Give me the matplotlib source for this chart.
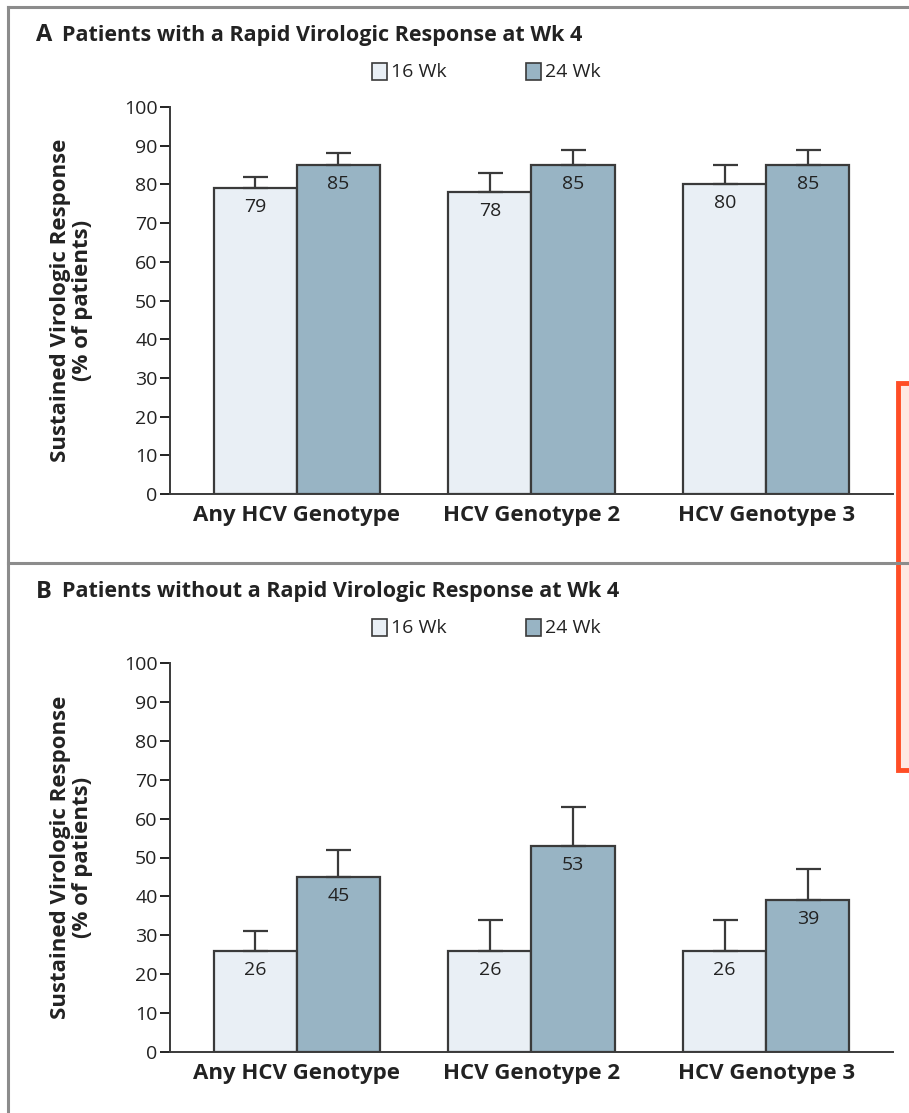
import matplotlib.pyplot as plt
import numpy as np
from matplotlib.lines import Line2D
from matplotlib.patches import Rectangle

categories = ["Any HCV Genotype", "HCV Genotype 2", "HCV Genotype 3"]
series = ["16 Wk", "24 Wk"]

a_16 = [79, 78, 80]
a_24 = [85, 85, 85]
a_16_err = [3, 5, 5]
a_24_err = [3, 4, 4]

b_16 = [26, 26, 26]
b_24 = [45, 53, 39]
b_16_err = [5, 8, 8]
b_24_err = [7, 10, 8]

titles = ["Patients with a Rapid Virologic Response at Wk 4",
          "Patients without a Rapid Virologic Response at Wk 4"]
letters = ["A", "B"]

C16 = "#e9eff5"
C24 = "#98b4c4"
EDGE = "#3a3a3a"
TXT = "#222222"

plt.rcParams["font.family"] = ["Open Sans", "DejaVu Sans"]


def draw(ax, v16, v24, e16, e24):
    x = np.arange(len(categories))
    w = 0.354
    ax.bar(x - w / 2, v16, w, color=C16, edgecolor=EDGE, linewidth=1.6,
           yerr=[np.zeros(3), e16], error_kw=dict(ecolor=EDGE, elinewidth=1.6, capsize=9, capthick=1.6))
    ax.bar(x + w / 2, v24, w, color=C24, edgecolor=EDGE, linewidth=1.6,
           yerr=[np.zeros(3), e24], error_kw=dict(ecolor=EDGE, elinewidth=1.6, capsize=9, capthick=1.6))
    for xi, v in zip(x, v16):
        ax.text(xi - w / 2, v - 2.5, str(v), ha="center", va="top", fontsize=14, color=TXT)
    for xi, v in zip(x, v24):
        ax.text(xi + w / 2, v - 2.5, str(v), ha="center", va="top", fontsize=14, color=TXT)
    ax.set_xlim(-0.54, 2.54)
    ax.set_ylim(0, 100)
    ax.set_yticks(range(0, 101, 10))
    ax.set_xticks(x)
    ax.set_xticklabels(categories, fontsize=16, fontweight="bold", color=TXT)
    ax.tick_params(axis="x", length=0, pad=8)
    ax.tick_params(axis="y", length=7, width=1.4, labelsize=14, colors=TXT, pad=2)
    for s in ["top", "right"]:
        ax.spines[s].set_visible(False)
    ax.spines["left"].set_linewidth(1.4)
    ax.spines["bottom"].set_linewidth(1.4)
    ax.spines["left"].set_color(EDGE)
    ax.spines["bottom"].set_color(EDGE)
    ax.set_ylabel("Sustained Virologic Response\n(% of patients)", fontsize=16,
                  fontweight="bold", color=TXT, labelpad=22, linespacing=1.1)


W, H = 909, 1113
fig = plt.figure(figsize=(W / 100, H / 100), dpi=100)

ax_a = fig.add_axes([170 / W, 1 - 494 / H, 723 / W, 387 / H])
ax_b = fig.add_axes([170 / W, 1 - 1052 / H, 723 / W, 389 / H])
draw(ax_a, a_16, a_24, a_16_err, a_24_err)
draw(ax_b, b_16, b_24, b_16_err, b_24_err)

# panel headers and legends
for i, (ty, ly) in enumerate([(35, 72), (592, 628)]):
    fig.text(36 / W, 1 - ty / H, letters[i], fontsize=17, fontweight="bold", color=TXT, va="center")
    fig.text(62 / W, 1 - ty / H, titles[i], fontsize=15.5, fontweight="bold", color=TXT, va="center")
    for j, (lx, c) in enumerate([(372, C16), (526, C24)]):
        fig.add_artist(Rectangle((lx / W, 1 - (ly + 8) / H), 15 / W, 17 / H, transform=fig.transFigure,
                                 facecolor=c, edgecolor=EDGE, linewidth=1.2))
        fig.text((lx + 19) / W, 1 - ly / H, series[j], fontsize=14, color=TXT, va="center")

# panel frame
frame = dict(color="#8c8c8c", linewidth=2.2, transform=fig.transFigure)
fig.add_artist(Line2D([8 / W, 1], [1 - 7 / H, 1 - 7 / H], **frame))
fig.add_artist(Line2D([8 / W, 8 / W], [1 - 7 / H, 0], **frame))
fig.add_artist(Line2D([8 / W, 1], [1 - 563 / H, 1 - 563 / H], **frame))

# highlight box
fig.add_artist(Rectangle((898 / W, 1 - 770 / H), 30 / W, 387 / H, transform=fig.transFigure,
                         facecolor="#ffe6e0", edgecolor="#ff3b0f", linewidth=3.5, alpha=0.9))

fig.savefig("out.png", dpi=100)
